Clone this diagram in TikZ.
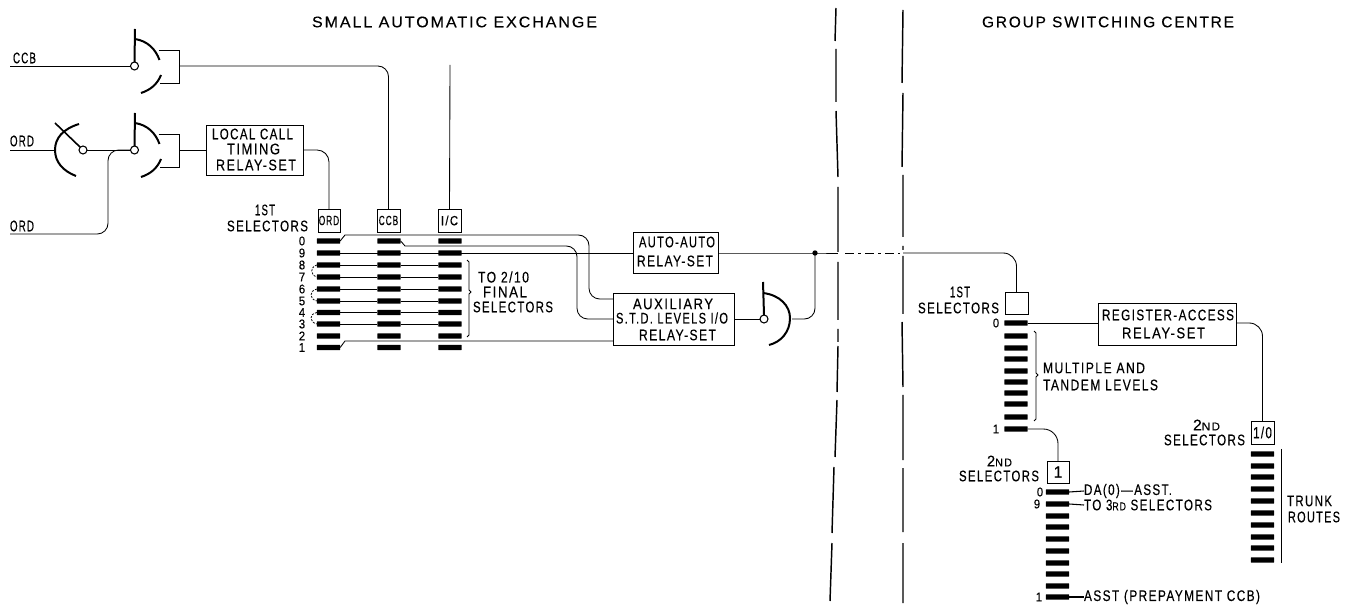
\documentclass[tikz,border=0pt]{standalone}
\usepackage{fontspec}
\usepackage{graphicx}
\setmainfont[LetterSpace=12,FakeBold=0.4]{Liberation Sans}
\newsavebox{\lblbox}
\newcommand{\smc}[1]{{\fontsize{8.5}{8.5}\selectfont #1}}
\newcommand{\lblsize}{11.5}
% name, x1, x2, y, text
\newcommand{\lbl}[5]{%
  \node[txt] (#1) at ({(#2+#3)/2},#4) {%
    \sbox{\lblbox}{\fontsize{\lblsize}{\lblsize}\selectfont #5}%
    \pgfmathsetmacro{\lblr}{((#3-#2)*0.75)/\the\wd\lblbox}%
    \scalebox{\lblr}[1]{\usebox{\lblbox}}};}
\newcommand{\dig}[4]{\node[txt,font=\fontsize{9.5}{9.5}\selectfont] (#1) at (#2,#3) {\scalebox{0.9}[1]{#4}};}
% name, x1, y1, x2, y2
\newcommand{\boxn}[5]{\node[boxn,minimum width={(#4-#2)*0.75pt},minimum height={(#5-#3)*0.75pt}] (#1) at ({(#2+#4)/2},{(#3+#5)/2}) {};}
% two-way gate: name, x, y
\newcommand{\gatetwo}[3]{%
  \begin{scope}[shift={(#2,#3)}]
    \node[contact] (#1) at (0,0) {};
    \coordinate (#1top) at (0.5,-37);
    \coordinate (#1out) at (44.5,0);
    \draw[heavy] (#1.north) -- (#1top);
    \draw[heavy] (0.5,-27) .. controls (13,-25) and (21,-17) .. (25,-6);
    \draw[heavy] (6.5,27) .. controls (16,24) and (23,18) .. (26.5,9);
    \draw[wire] (24,-16) -- (44.5,-16) -- (44.5,17) -- (25,17);
  \end{scope}}
\tikzset{
  txt/.style={inner sep=0pt,outer sep=0pt,text=black},
  boxn/.style={draw=black,line width=0.7pt,inner sep=0pt,outer sep=0pt},
  bar/.style={fill=black,inner sep=0pt,outer sep=0pt,minimum width=17.5pt,minimum height=4pt,rounded corners=0.4pt},
  contact/.style={circle,draw=black,fill=white,line width=0.8pt,minimum size=6pt,inner sep=0pt,outer sep=0pt},
  wire/.style={draw=black,line width=0.65pt},
  heavy/.style={draw=black,line width=1.5pt},
  divider/.style={draw=black,line width=1.1pt},
  dotwire/.style={draw=black,line width=0.6pt,dash pattern=on 1.5pt off 1pt},
  trunk/.style={draw=black,line width=0.7pt},
  boxlbl/.style={txt,font=\fontsize{10}{10}\selectfont},
}
\begin{document}
\begin{tikzpicture}[x=0.75pt,y=-0.75pt]
\useasboundingbox (0,0) rectangle (1352,605);
% titles
\lbl{t1}{312}{597}{22}{SMALL AUTOMATIC EXCHANGE}
\lbl{t2}{982}{1234}{22}{GROUP SWITCHING CENTRE}
% dividers
\draw[divider] (836,8)--(835,41) (836,49)--(836,102) (836,111)--(838,177) (838,187)--(838,252) (838,262)--(838,320) (838,329)--(838,342) (838,346)--(837,392) (837,400)--(835,457) (834,467)--(832,533) (832,543)--(830,601);
\draw[divider] (903,10)--(902,83) (903,93)--(902,167) (903,175)--(903,237) (903,246)--(903,250) (903,256)--(903,314) (902,322)--(903,387) (903,395)--(903,460) (903,468)--(903,532) (903,543)--(903,603);
% line labels
\lbl{lccb}{13}{36}{58}{CCB}
\lbl{lord}{10}{34}{141}{ORD}
\lbl{lordb}{10}{34}{226}{ORD}
\coordinate (inccb) at (10,66);
\coordinate (inord) at (10,150);
\coordinate (inordb) at (10,234);
% switch contacts and gates
\gatetwo{gca}{134.5}{66}
\gatetwo{gor}{134.5}{150}
\node[contact] (xc) at (83,150) {};
\draw[heavy] (79,124) .. controls (63,129) and (55,138) .. (55,150) .. controls (55,162) and (63,171) .. (76,176);
\coordinate (xtip) at (55,123);
\draw[heavy,line width=1.2pt] (xtip) -- (xc.north west);
% boxes
\boxn{timing}{206}{125}{303}{175}
\lbl{tm1}{212}{293}{134}{LOCAL CALL}
\lbl{tm2}{227}{280}{149}{TIMING}
\lbl{tm3}{216}{296}{165}{RELAY-SET}
\boxn{ordb}{318}{209}{340}{232}
\boxn{ccbb}{377}{209}{400}{232}
\boxn{icb}{438}{209}{461}{232}
\node[boxlbl] (ordt) at (ordb) {\scalebox{0.62}[1]{ORD}};
\node[boxlbl] (ccbt) at (ccbb) {\scalebox{0.62}[1]{CCB}};
\node[boxlbl] (ict) at (icb) {\scalebox{0.85}[1]{I/C}};
\lbl{s1a}{255}{275}{210}{1ST}
\lbl{s1b}{227}{308}{226}{SELECTORS}
% selector levels, small exchange
\foreach \n/\y in {0/241,9/253,8/265,7/277,6/289,5/301,4/312.5,3/324,2/336,1/347.5}{
  \node[bar] (o\n) at (328.5,\y) {};
  \node[bar] (c\n) at (389,\y) {};
  \node[bar] (i\n) at (450,\y) {};
  \dig{d\n}{302}{\y}{\n}
}
\foreach \n in {8,7,6,5,4,3}{
  \draw[wire] (o\n.east) -- (c\n.west) (c\n.east) -- (i\n.west);
}
\draw[dotwire] (o8.west) .. controls (310,267) and (310,275) .. (o7.west);
\draw[dotwire] (o6.west) .. controls (309,291) and (309,299) .. (o5.west);
\draw[dotwire] (o4.west) .. controls (309,314) and (309,322) .. (o3.west);
% brace
\coordinate (bra) at (467,260);
\coordinate (brb) at (467,337);
\draw[wire] (bra) -- (469,262) -- (469,290) -- (471,292) -- (469,294) -- (469,335) -- (brb);
\lbl{f1}{478}{529}{277}{TO 2/10}
\lbl{f2}{483}{527}{292}{FINAL}
\lbl{f3}{473}{553}{307}{SELECTORS}
% relay sets
\boxn{auto}{633}{232}{718}{273}
\lbl{au1}{639}{715}{242}{AUTO-AUTO}
\lbl{au2}{637}{713}{261}{RELAY-SET}
\boxn{aux}{613}{293}{734}{345}
\lbl{ax1}{633}{713}{304}{AUXILIARY}
\lbl{ax2}{616}{728}{318}{S.T.D. LEVELS I/O}
\lbl{ax3}{639}{716}{335}{RELAY-SET}
% exit gate
\node[contact] (gex) at (764,319) {};
\coordinate (gextop) at (763,282);
\coordinate (gexout) at (792,319);
\draw[heavy] (gex.north) -- (gextop);
\draw[heavy] (763,293) .. controls (780,295) and (790,306) .. (790,318) .. controls (790,332) and (781,342) .. (769,345);
\node[fill=black,circle,minimum size=4pt,inner sep=0pt] (jn) at (815,253) {};
\coordinate (divl) at (838,253);
\coordinate (dash1) at (845,253);
\coordinate (dash2) at (900,253);
% named connector points
\coordinate (auxa) at (613,299);
\coordinate (auxb) at (613,319);
\coordinate (auxc) at (613,341);
\coordinate (auxe) at (734,319);
\coordinate (autoa) at (633,253);
% connectors left
\draw[wire] (inccb) -- (gca.west);
\draw[wire] (inord) -- (55,150);
\draw[wire] (xc.east) -- (gor.west);
\draw[wire,rounded corners=8pt] (gcaout) -| (ccbb.north);
\draw[wire] (gorout) -- (timing.west);
\draw[wire,rounded corners=9pt] (timing.east) -| (ordb.north);
\draw[wire,rounded corners=8pt] (inordb) -- (108,234) -- (108,150) -- (gor.west);
\coordinate (icfree) at (450,65);
\draw[wire] (icfree) -- (icb.north);
% connectors levels
\draw[wire] (o9.east) -- (autoa);
\draw[wire] (o0.east) -- (345,235) [rounded corners=8pt] -- (589,235) -- (589,299) -- (auxa);
\draw[wire] (c0.east) -- (405,246) [rounded corners=8pt] -- (577,246) -- (577,319) -- (auxb);
\draw[wire] (o1.east) -- (345,341) -- (auxc);
\draw[wire] (aux.east |- auxe) -- (gex.west);
\draw[wire] (auto.east |- autoa) -- (jn.center) -- (divl);
\draw[wire,rounded corners=8pt] (gexout) -| (jn.center);
\draw[wire,dash pattern=on 7pt off 3pt on 2pt off 3pt] (dash1) -- (dash2);
% group switching centre
\boxn{gs1}{1005}{292}{1028}{314}
\lbl{gs1a}{950}{970}{292}{1ST}
\lbl{gs1b}{918}{999}{308}{SELECTORS}
\foreach \n/\y in {0/323,a/336,b/348,c/359,d/371,e/382,f/393,g/404,h/417,1/429}{
  \node[bar] (g\n) at (1016,\y) {};
}
\dig{gd0}{996}{323}{0}
\dig{gd1}{996}{429}{1}
\boxn{reg}{1098}{303}{1236}{345}
\lbl{rg1}{1102}{1234}{315}{REGISTER-ACCESS}
\lbl{rg2}{1122}{1205}{333}{RELAY-SET}
\coordinate (brc) at (1034,331);
\coordinate (brd) at (1034,421);
\draw[wire] (brc) -- (1036,333) -- (1036,373) -- (1038,375) -- (1036,377) -- (1036,419) -- (brd);
\lbl{mt1}{1043}{1145}{368}{MULTIPLE AND}
\lbl{mt2}{1043}{1158}{385}{TANDEM LEVELS}
% 2nd selectors (trunk)
\boxn{s10}{1251}{421}{1274}{444}
\node[txt,font=\fontsize{12}{12}\selectfont] (s10t) at (s10) {\scalebox{0.72}[1]{1/0}};
\lbl{s2a}{1193}{1220}{425}{2\smc{ND}}
\lbl{s2b}{1164}{1245}{440}{SELECTORS}
\foreach \n/\y in {1/454,2/466,3/477,4/489,5/501,6/513,7/525,8/537,9/548,10/560}{
  \node[bar] (t\n) at (1262.5,\y) {};
}
\coordinate (tra) at (1281,449);
\coordinate (trb) at (1281,563);
\draw[trunk] (tra) -- (trb);
\lbl{tr1}{1287}{1332}{501}{TRUNK}
\lbl{tr2}{1288}{1340}{517}{ROUTES}
% 2nd selectors (level 1)
\boxn{s1}{1047}{461}{1069}{483}
\node[txt,font=\fontsize{12}{12}\selectfont] (s1t) at (s1) {1};
\lbl{s3a}{987}{1012}{461}{2\smc{ND}}
\lbl{s3b}{959}{1039}{476}{SELECTORS}
\foreach \n/\y in {0/492,9/504,8/516,7/527,6/539,5/551,4/563,3/574,2/586,1/597}{
  \node[bar] (u\n) at (1057.5,\y) {};
}
\dig{ud0}{1040}{492}{0}
\dig{ud9}{1037}{504}{9}
\dig{ud1}{1039}{597}{1}
\lbl{ua}{1084}{1172}{491}{DA(0)—ASST.}
\lbl{ub}{1084}{1212}{505}{TO 3\smc{RD} SELECTORS}
\lbl{uc}{1084}{1260}{597}{ASST (PREPAYMENT CCB)}
\draw[wire,line width=0.8pt] (u0.east) -- (ua.west);
\draw[wire,line width=0.8pt] (u9.east) -- (ub.west);
\draw[wire,line width=0.8pt] (u1.east) -- (uc.west);
% connectors right
\coordinate (divr) at (903,253);
\draw[wire,rounded corners=10pt] (divr) -| (gs1.north);
\draw[wire] (g0.east) -- (reg.west |- g0);
\coordinate (rege) at (1236,323);
\draw[wire,rounded corners=10pt] (rege) -| (s10.north);
\draw[wire,rounded corners=11pt] (g1.east) -| (s1.north);
\end{tikzpicture}
\end{document}
